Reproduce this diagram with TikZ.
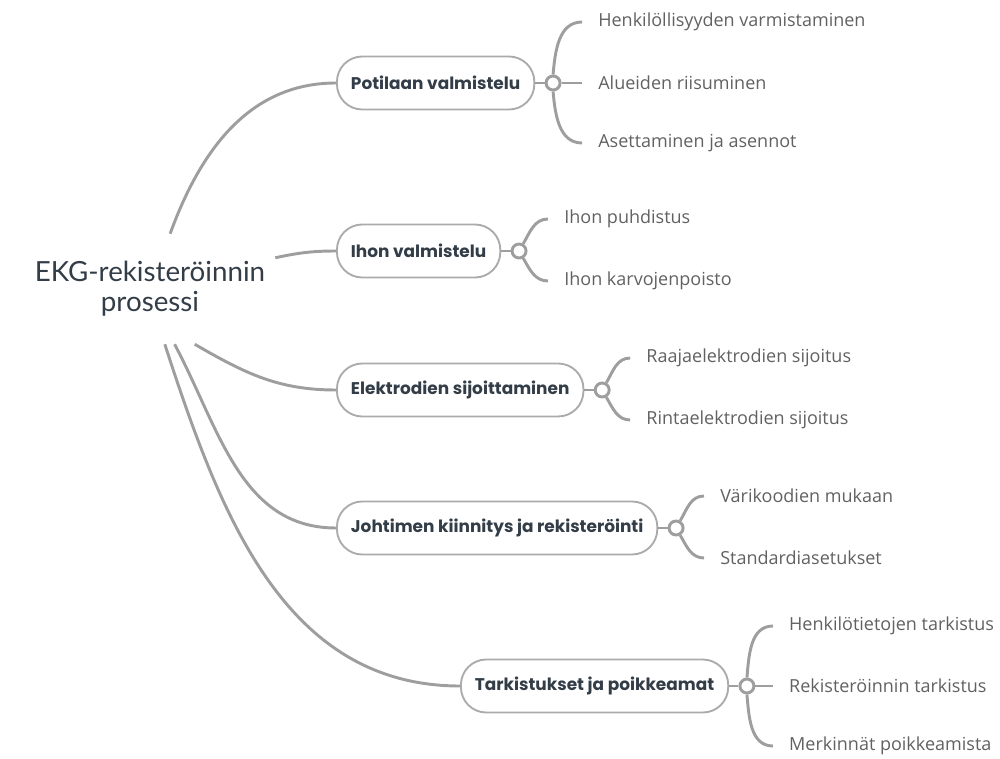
\documentclass[tikz,border=0pt]{standalone}
\usepackage{fontspec}
\setmainfont{Lato}
\newfontfamily\topicfont{Poppins}
\newfontfamily\leaffont{Open Sans}
\usetikzlibrary{positioning}
\definecolor{linegray}{HTML}{9E9E9E}
\definecolor{boxgray}{HTML}{ABABAB}
\definecolor{inkdark}{HTML}{333D47}
\definecolor{leafgray}{HTML}{616161}

\begin{document}
\begin{tikzpicture}[x=0.75pt,y=0.75pt,
  root/.style = {align=center, text=inkdark, inner sep=0pt,
    minimum width=187.5pt, minimum height=82.5pt,
    font=\fontsize{20.8}{22.5}\selectfont},
  topic/.style = {draw=boxgray, line width=1.4pt, rounded corners=19pt,
    anchor=west, minimum height=39.75pt, inner xsep=10.5pt, text=inkdark,
    font=\topicfont\fontsize{12.7}{14}\selectfont\bfseries},
  joint/.style = {circle, draw=linegray, line width=2.2pt, fill=white,
    inner sep=0pt, minimum size=10.5pt},
  leaf/.style = {anchor=west, inner xsep=12pt, text=leafgray,
    font=\leaffont\fontsize{13.5}{15}\selectfont},
  link/.style = {draw=linegray, line width=2.2pt}
  ]
  \useasboundingbox (0,0) rectangle (1000,758);

  % main idea and topics
  \node[root] (ekg) at (150,469) {EKG-rekisteröinnin\\prosessi};
  \node[topic] (potilas) at (336,675) {Potilaan valmistelu};
  \node[topic] (iho) at (336,507) {Ihon valmistelu};
  \node[topic] (elektrodit) at (336,368) {Elektrodien sijoittaminen};
  \node[topic] (johdin) at (336,230) {Johtimen kiinnitys ja rekisteröinti};
  \node[topic] (tarkistus) at (460,72) {Tarkistukset ja poikkeamat};

  % joints
  \node[joint, right=7pt of potilas] (j1) {};
  \node[joint, right=7pt of iho] (j2) {};
  \node[joint, right=7pt of elektrodit] (j3) {};
  \node[joint, right=7pt of johdin] (j4) {};
  \node[joint, right=7pt of tarkistus] (j5) {};

  % leaves
  \node[leaf] (l11) at ([shift={(29,61)}]j1) {Henkilöllisyyden varmistaminen};
  \node[leaf] (l12) at ([shift={(29,0)}]j1) {Alueiden riisuminen};
  \node[leaf] (l13) at ([shift={(29,-60)}]j1) {Asettaminen ja asennot};
  \node[leaf] (l21) at ([shift={(29,32)}]j2) {Ihon puhdistus};
  \node[leaf] (l22) at ([shift={(29,-30)}]j2) {Ihon karvojenpoisto};
  \node[leaf] (l31) at ([shift={(28,32)}]j3) {Raajaelektrodien sijoitus};
  \node[leaf] (l32) at ([shift={(28,-30)}]j3) {Rintaelektrodien sijoitus};
  \node[leaf] (l41) at ([shift={(28,32)}]j4) {Värikoodien mukaan};
  \node[leaf] (l42) at ([shift={(28,-30)}]j4) {Standardiasetukset};
  \node[leaf] (l51) at ([shift={(26,60)}]j5) {Henkilötietojen tarkistus};
  \node[leaf] (l52) at ([shift={(26,0)}]j5) {Rekisteröinnin tarkistus};
  \node[leaf] (l53) at ([shift={(26,-60)}]j5) {Merkinnät poikkeamista};

  % root branches
  \draw[link] (ekg.70) to[out=70,in=180] (potilas.west);
  \draw[link] (ekg.14) to[out=12,in=180] (iho.west);
  \draw[link] (ekg.-51) to[out=-30,in=180] (elektrodit.west);
  \draw[link] (ekg.-66) to[out=-62,in=180] (johdin.west);
  \draw[link] (ekg.-75) to[out=-72,in=180] (tarkistus.west);

  % topic to joint
  \foreach \t/\j in {potilas/j1,iho/j2,elektrodit/j3,johdin/j4,tarkistus/j5}
    \draw[link] (\t.east) -- (\j.west);

  % brackets
  \draw[link] (j1.north) to[out=85,in=180] (l11.west);
  \draw[link] (j1.east) -- (l12.west);
  \draw[link] (j1.south) to[out=-85,in=180] (l13.west);
  \draw[link] (j2.60) to[out=60,in=180] (l21.west);
  \draw[link] (j2.-60) to[out=-60,in=180] (l22.west);
  \draw[link] (j3.60) to[out=60,in=180] (l31.west);
  \draw[link] (j3.-60) to[out=-60,in=180] (l32.west);
  \draw[link] (j4.60) to[out=60,in=180] (l41.west);
  \draw[link] (j4.-60) to[out=-60,in=180] (l42.west);
  \draw[link] (j5.north) to[out=85,in=180] (l51.west);
  \draw[link] (j5.east) -- (l52.west);
  \draw[link] (j5.south) to[out=-85,in=180] (l53.west);
\end{tikzpicture}
\end{document}
